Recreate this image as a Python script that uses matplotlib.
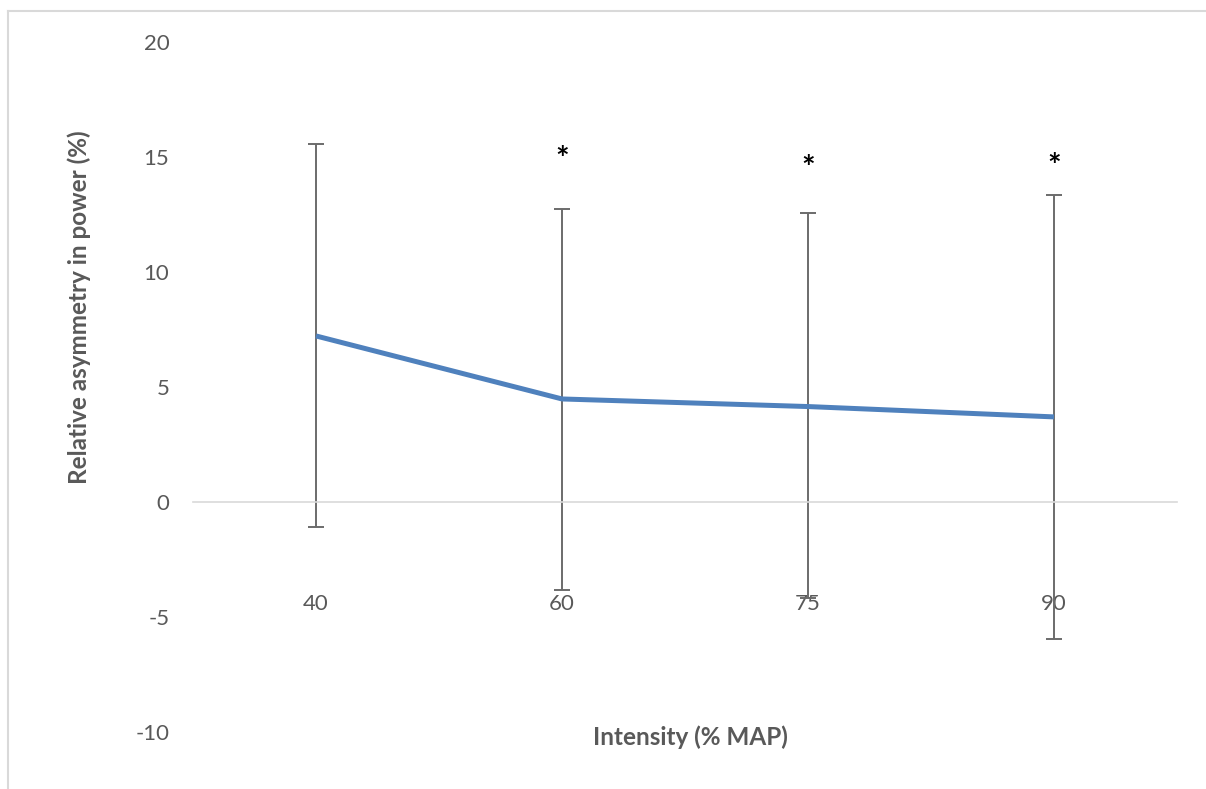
import numpy as np
import matplotlib.pyplot as plt
from matplotlib.lines import Line2D

# Data
intensity = ["40", "60", "75", "90"]
asym_mean = [7.22, 4.48, 4.15, 3.70]
asym_err_up = [8.35, 8.26, 8.42, 9.65]
asym_err_low = [8.30, 8.31, 8.32, 9.66]
star_y = [None, 15.2, 14.8, 14.9]

plt.rcParams["font.family"] = ["Lato", "DejaVu Sans"]
plt.rcParams["axes.unicode_minus"] = False

fig = plt.figure(figsize=(12.06, 7.89), dpi=100)
W, H = 1206, 789
ax = fig.add_axes([193 / W, 57 / H, (1177 - 193) / W, (732 - 42) / H])

x = np.arange(len(intensity)) + 0.5

# error bars
ax.errorbar(x, asym_mean, yerr=[asym_err_low, asym_err_up], fmt="none",
            ecolor="#6b6b6b", elinewidth=1.4, capsize=6, capthick=1.4, zorder=2)
# mean line
ax.plot(x, asym_mean, color="#4f81bd", linewidth=3.6, solid_capstyle="butt", zorder=3)

# significance markers
for xi, sy in zip(x, star_y):
    if sy is not None:
        ax.text(xi, sy - 0.35, "*", ha="center", va="center", fontsize=23,
                fontweight="bold", color="black")

ax.set_xlim(0, 4)
ax.set_ylim(-10, 20)
ax.set_yticks([-10, -5, 0, 5, 10, 15, 20])
ax.set_xticks(x)
ax.set_xticklabels(intensity)

for s in ["top", "right", "left"]:
    ax.spines[s].set_visible(False)
ax.spines["bottom"].set_position(("data", 0))
ax.spines["bottom"].set_color("#d9d9d9")
ax.spines["bottom"].set_linewidth(1.2)

ax.tick_params(axis="both", length=0, labelsize=16, labelcolor="#595959")
ax.tick_params(axis="y", pad=17)
ax.tick_params(axis="x", pad=66)

ax.set_ylabel("Relative asymmetry in power (%)", fontsize=17.5, fontweight="bold",
              color="#595959")
ax.yaxis.set_label_coords((91 - 193) / 984, (732 - 307) / 690)
fig.text(690 / W, 1 - 737 / H, "Intensity (% MAP)", ha="center", va="center",
         fontsize=17.5, fontweight="bold", color="#595959")

# chart area border (cropped)
fig.add_artist(Line2D([8 / W, 1], [1 - 10.5 / H, 1 - 10.5 / H], color="#d9d9d9",
                      linewidth=1.5, transform=fig.transFigure))
fig.add_artist(Line2D([8 / W, 8 / W], [0, 1 - 10.5 / H], color="#d9d9d9",
                      linewidth=1.5, transform=fig.transFigure))

fig.savefig("out.png", dpi=100)
